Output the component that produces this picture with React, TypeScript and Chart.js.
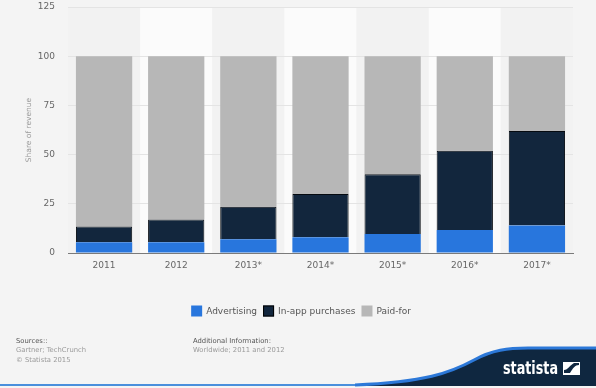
import React, { useEffect, useRef } from "react";
import { Chart, registerables } from "chart.js";

Chart.register(...registerables);

const categories = ["2011", "2012", "2013*", "2014*", "2015*", "2016*", "2017*"];
const advertising = [5.5, 5.5, 7, 8, 9.7, 11.7, 14];
const inAppPurchases = [8, 11.5, 16.5, 22, 30.3, 40.3, 48];
const paidFor = [86.5, 83, 76.5, 70, 60, 48, 38];
const yTicks = [0, 25, 50, 75, 100, 125];
const seriesNames = ["Advertising", "In-app purchases", "Paid-for"];
const seriesColors = ["#2876dd", "#12263d", "#b7b7b7"];
const sourcesLines = ["Sources::", "Gartner; TechCrunch", "© Statista 2015"];
const infoLines = ["Additional Information:", "Worldwide; 2011 and 2012"];

const W = 596;
const H = 388;
const FONT = "'DejaVu Sans', sans-serif";

const decorPlugin = {
  id: "decor",
  beforeDraw(chart: any) {
    const { ctx, chartArea, scales } = chart;
    ctx.save();
    ctx.fillStyle = "#f4f4f4";
    ctx.fillRect(0, 0, W, H);
    const xs = scales.x;
    const n = chart.data.labels.length;
    const cw = (chartArea.right - chartArea.left) / n;
    for (let i = 0; i < n; i++) {
      const cx = xs.getPixelForValue(i);
      ctx.fillStyle = i % 2 === 1 ? "#fbfbfb" : "#f2f2f2";
      ctx.fillRect(cx - cw / 2, chartArea.top, cw, chartArea.bottom - chartArea.top);
    }
    ctx.restore();
  },
  afterDraw(chart: any) {
    const { ctx } = chart;
    ctx.save();
    // legend
    ctx.font = `9px ${FONT}`;
    ctx.textBaseline = "middle";
    const box = 11;
    const gapText = 4;
    const gapItem = 6;
    const ds = chart.data.datasets;
    let total = 0;
    const widths = ds.map((d: any) => ctx.measureText(d.label).width);
    widths.forEach((w: number, i: number) => {
      total += box + gapText + w + (i < widths.length - 1 ? gapItem : 0);
    });
    let x = 301 - total / 2;
    const ly = 311;
    ds.forEach((d: any, i: number) => {
      ctx.fillStyle = d.backgroundColor;
      ctx.fillRect(x, ly - box / 2, box, box);
      if (i === 1) {
        ctx.strokeStyle = "#000";
        ctx.lineWidth = 1;
        ctx.strokeRect(x + 0.5, ly - box / 2 + 0.5, box - 1, box - 1);
      }
      x += box + gapText;
      ctx.fillStyle = "#555";
      ctx.textAlign = "left";
      ctx.fillText(d.label, x, ly + 0.5);
      x += widths[i] + gapItem;
    });

    // footer text
    ctx.font = `6.8px ${FONT}`;
    ctx.textBaseline = "middle";
    sourcesLines.forEach((t, i) => {
      ctx.fillStyle = i === 0 ? "#555" : "#9a9a9a";
      ctx.fillText(t, 16, 341 + i * 9.6);
    });
    infoLines.forEach((t, i) => {
      ctx.fillStyle = i === 0 ? "#555" : "#9a9a9a";
      ctx.fillText(t, 193, 341 + i * 9.6);
    });

    // bottom blue line
    ctx.fillStyle = "#4a8fdc";
    ctx.fillRect(0, 384, W, 2);

    // logo swoosh
    const swoosh = () => {
      ctx.moveTo(355, 385);
      ctx.bezierCurveTo(425, 382, 450, 373, 474, 360);
      ctx.bezierCurveTo(492, 350, 508, 348, 528, 348);
      ctx.lineTo(W, 348);
    };
    ctx.beginPath();
    swoosh();
    ctx.lineTo(W, 386);
    ctx.lineTo(355, 386);
    ctx.closePath();
    ctx.fillStyle = "#0f2740";
    ctx.fill();
    ctx.beginPath();
    swoosh();
    ctx.strokeStyle = "#2c78d8";
    ctx.lineWidth = 3;
    ctx.stroke();

    // statista text
    ctx.font = `bold 17px ${FONT}`;
    ctx.textBaseline = "alphabetic";
    ctx.fillStyle = "#ffffff";
    const tw = ctx.measureText("statista").width;
    ctx.save();
    ctx.translate(503, 374);
    ctx.scale(55 / tw, 1);
    ctx.fillText("statista", 0, 0);
    ctx.restore();

    // icon
    ctx.fillStyle = "#ffffff";
    ctx.fillRect(563, 362, 17, 13);
    ctx.fillStyle = "#0f2740";
    ctx.beginPath();
    ctx.moveTo(564, 373);
    ctx.lineTo(570, 373);
    ctx.bezierCurveTo(573, 368, 575, 365, 579, 365);
    ctx.lineTo(579, 363);
    ctx.lineTo(574, 363);
    ctx.bezierCurveTo(570, 365, 568, 370, 564, 370);
    ctx.closePath();
    ctx.fill();
    ctx.restore();
  },
};

export default function App() {
  const ref = useRef<HTMLCanvasElement | null>(null);
  useEffect(() => {
    if (!ref.current) return;
    const chart = new Chart(ref.current, {
      type: "bar",
      data: {
        labels: categories,
        datasets: [
          {
            label: seriesNames[0],
            data: advertising,
            backgroundColor: seriesColors[0],
            borderWidth: 0,
          },
          {
            label: seriesNames[1],
            data: inAppPurchases,
            backgroundColor: seriesColors[1],
            borderColor: "#050a10",
            borderWidth: 1,
          },
          {
            label: seriesNames[2],
            data: paidFor,
            backgroundColor: seriesColors[2],
            borderWidth: 0,
          },
        ],
      },
      plugins: [decorPlugin],
      options: {
        responsive: false,
        animation: false,
        devicePixelRatio: 1,
        layout: { padding: { left: 0, right: 23, top: 7, bottom: 0 } },
        plugins: {
          legend: { display: false },
          tooltip: { enabled: false },
        },
        datasets: { bar: { barPercentage: 0.78, categoryPercentage: 1 } },
        scales: {
          x: {
            stacked: true,
            grid: { display: false, drawTicks: false },
            border: { display: true, color: "#7a7a7a", width: 1 },
            ticks: {
              color: "#666",
              font: { family: FONT, size: 9 },
              padding: 7,
              maxRotation: 0,
            },
            afterFit: (s: any) => {
              s.height = 135;
            },
          },
          y: {
            stacked: true,
            min: 0,
            max: 125,
            afterBuildTicks: (s: any) => {
              s.ticks = yTicks.map((v) => ({ value: v }));
            },
            grid: {
              color: "#e4e4e4",
              drawTicks: true,
              tickLength: 13,
              tickColor: "rgba(0,0,0,0)",
              lineWidth: 1,
            },
            border: { display: false },
            ticks: {
              color: "#666",
              font: { family: FONT, size: 9 },
              padding: 0,
            },
            title: {
              display: true,
              text: "Share of revenue",
              color: "#9a9a9a",
              font: { family: FONT, size: 7.5 },
              padding: { top: 25, bottom: 0 },
            },
            afterFit: (s: any) => {
              s.width = 68;
            },
          },
        },
      },
    });
    return () => chart.destroy();
  }, []);
  return (
    <div style={{ position: "absolute", left: 0, top: 0, width: W, height: H }}>
      <canvas ref={ref} width={W} height={H} style={{ display: "block" }} />
    </div>
  );
}
